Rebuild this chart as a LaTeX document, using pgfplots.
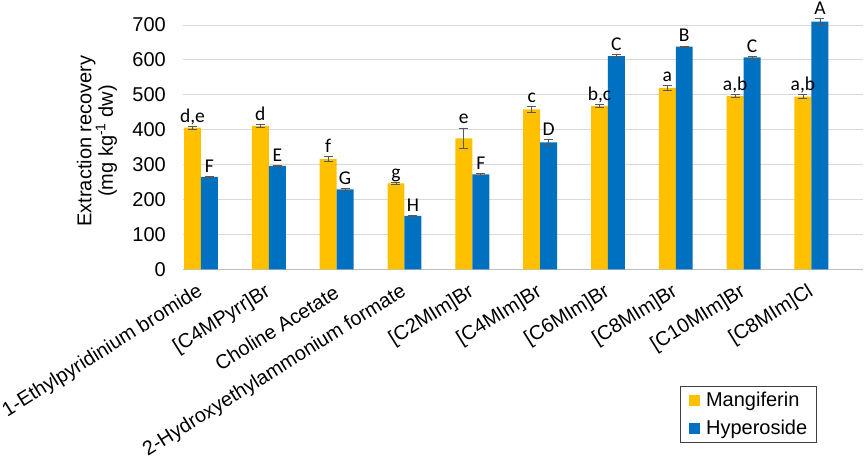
\documentclass[border=0pt]{standalone}
\usepackage{fontspec}
\setmainfont{Liberation Sans}
\newfontfamily\calib{Carlito}
\usepackage{pgfplots}
\pgfplotsset{compat=1.18}
\usepackage{pgfplotstable}
\definecolor{mangi}{HTML}{FFC000}
\definecolor{hyper}{HTML}{0070C0}
\definecolor{errc}{HTML}{595959}
\definecolor{gridc}{HTML}{D9D9D9}
\definecolor{axc}{HTML}{BFBFBF}

\pgfplotstableread{
x y e lab
-0.125 406 4 d,e
0.875 411 4 d
1.875 316 8 f
2.875 246 4 g
3.875 375 30 e
4.875 458 8 c
5.875 468 5 b,c
6.875 520 8 a
7.875 497 4 a,b
8.875 495 5 a,b
}\mangitab

\pgfplotstableread{
x y e lab
0.125 265 2 F
1.125 296 2 E
2.125 229 3 G
3.125 153 2 H
4.125 272 2 F
5.125 364 8 D
6.125 611 4 C
7.125 638 2 B
8.125 607 3 C
9.125 710 9 A
}\hypertab

\begin{document}
\begin{tikzpicture}
\useasboundingbox (0,0) rectangle (865pt,470pt);
\begin{axis}[
  at={(183pt,200.7pt)}, anchor=south west,
  scale only axis, width=680pt, height=244.3pt,
  xmin=-0.265, xmax=9.76, ymin=0, ymax=700,
  enlargelimits=false, clip=false,
  xtick={0,...,9},
  xticklabels={{1-Ethylpyridinium bromide},{[C4MPyrr]Br},{Choline Acetate},{2-Hydroxyethylammonium formate},{[C2MIm]Br},{[C4MIm]Br},{[C6MIm]Br},{[C8MIm]Br},{[C10MIm]Br},{[C8MIm]Cl}},
  ytick={0,100,...,700},
  major tick length=0pt,
  ymajorgrids, major grid style={draw=gridc, line width=0.8pt},
  axis x line*=bottom, axis y line*=left,
  x axis line style={draw=axc, line width=1pt, -},
  y axis line style={draw=none},
  /pgf/number format/assume math mode=true,
  yticklabel style={font=\fontsize{20}{24}\selectfont, anchor=east, inner sep=0pt, xshift=-17pt},
  xticklabel style={font=\fontsize{20}{24}\selectfont, anchor=east, inner sep=0pt, yshift=-21pt, xshift=0pt, rotate=32},
  ylabel={Extraction recovery\\(mg kg\textsuperscript{-1} dw)},
  ylabel style={at={(axis description cs:-0.1265,0.525)}, anchor=center, align=center, font=\fontsize{20}{21.5}\selectfont},
  legend style={at={(axis description cs:0.731,-0.4777)}, anchor=north west, draw=black!75, line width=0.8pt, font=\fontsize{20}{24}\selectfont, inner xsep=9pt, inner ysep=6pt, row sep=12pt, column sep=6pt, nodes={inner sep=0pt}},
  legend cell align=left,
  legend image code/.code={\fill[#1, draw=none] (0pt,-5.3pt) rectangle (10.6pt,5.3pt);},
]
\addplot[ybar, bar width=0.25, bar shift=0pt, fill=mangi, draw=none,
  error bars/.cd, y dir=both, y explicit,
  error bar style={draw=errc, line width=0.8pt},
  error mark options={rotate=90, mark size=4.5pt, draw=errc, line width=0.8pt}]
  table[x=x, y=y, y error=e]{\mangitab};
\addlegendentry{Mangiferin}
\addplot[forget plot, draw=none, mark=none, nodes near coords, point meta=explicit symbolic,
  nodes near coords style={font=\calib\fontsize{19.5}{20}\selectfont, anchor=base, yshift=4pt, text=black, inner sep=0pt}]
  table[x=x, y expr=\thisrow{y}+\thisrow{e}, meta=lab]{\mangitab};
\addplot[ybar, bar width=0.25, bar shift=0pt, fill=hyper, draw=none,
  error bars/.cd, y dir=both, y explicit,
  error bar style={draw=errc, line width=0.8pt},
  error mark options={rotate=90, mark size=4.5pt, draw=errc, line width=0.8pt}]
  table[x=x, y=y, y error=e]{\hypertab};
\addlegendentry{Hyperoside}
\addplot[forget plot, draw=none, mark=none, nodes near coords, point meta=explicit symbolic,
  nodes near coords style={font=\calib\fontsize{19.5}{20}\selectfont, anchor=base, yshift=4pt, text=black, inner sep=0pt}]
  table[x=x, y expr=\thisrow{y}+\thisrow{e}, meta=lab]{\hypertab};
\end{axis}
\end{tikzpicture}
\end{document}
